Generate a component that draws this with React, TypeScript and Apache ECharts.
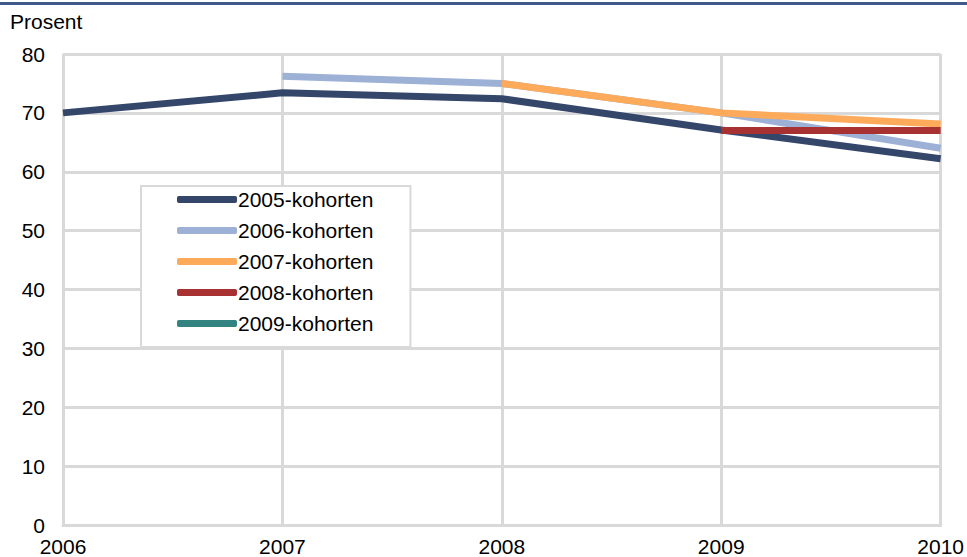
import React, { useEffect, useRef } from "react";
import * as echarts from "echarts";

const years = ["2006", "2007", "2008", "2009", "2010"];
const cohort2005 = [70, 73.4, 72.4, 67.1, 62.2];
const cohort2006 = [null, 76.2, 75.0, 70.0, 64.0];
const cohort2007 = [null, null, 75.0, 70.0, 68.1];
const cohort2008 = [null, null, null, 67.0, 67.0];
const cohort2009: (number | null)[] = [null, null, null, null, null];
const seriesNames = ["2005-kohorten", "2006-kohorten", "2007-kohorten", "2008-kohorten", "2009-kohorten"];
const colors = ["#35466b", "#9db0d6", "#fdaa5a", "#a83232", "#338480"];

const FONT = "'Liberation Sans', Arial, sans-serif";
const FS = 21;

export default function App() {
  const ref = useRef<HTMLDivElement>(null);
  useEffect(() => {
    if (!ref.current) return;
    const chart = echarts.init(ref.current, undefined, { renderer: "svg" });
    const allData = [cohort2005, cohort2006, cohort2007, cohort2008, cohort2009];
    chart.setOption({
      animation: false,
      textStyle: { fontFamily: FONT },
      title: {
        text: "Prosent",
        left: 10,
        top: 11,
        padding: 0,
        textStyle: { fontSize: FS, fontWeight: "normal", color: "#000", fontFamily: FONT },
      },
      graphic: [
        { type: "rect", left: 0, top: 2, shape: { width: 967, height: 3 }, style: { fill: "#3d5a8a" } },
      ],
      grid: { left: 63, right: 25, top: 54, bottom: 31, containLabel: false },
      legend: {
        orient: "vertical",
        left: 141,
        top: 186,
        padding: [3, 37, 13, 36],
        borderColor: "#d9d9d9",
        borderWidth: 2,
        backgroundColor: "#fff",
        icon: "roundRect",
        itemWidth: 60,
        itemHeight: 7,
        itemGap: 10,
        textStyle: { fontSize: FS, color: "#000", fontFamily: FONT, lineHeight: 21, padding: [0, 0, 0, -4] },
        data: seriesNames,
      },
      xAxis: {
        type: "category",
        data: years,
        boundaryGap: false,
        axisLine: { show: true, lineStyle: { color: "#d9d9d9", width: 3 } },
        axisTick: { show: false },
        splitLine: { show: true, lineStyle: { color: "#d9d9d9", width: 3 } },
        axisLabel: { fontSize: FS, color: "#000", margin: 11, fontFamily: FONT },
      },
      yAxis: {
        type: "value",
        min: 0,
        max: 80,
        interval: 10,
        axisLine: { show: false },
        axisTick: { show: false },
        splitLine: { show: true, lineStyle: { color: "#d9d9d9", width: 3 } },
        axisLabel: { fontSize: FS, color: "#000", margin: 18, fontFamily: FONT },
      },
      series: seriesNames.map((name, i) => ({
        name,
        type: "line",
        data: allData[i],
        symbol: "none",
        showSymbol: false,
        connectNulls: false,
        color: colors[i],
        lineStyle: { color: colors[i], width: 7 },
        itemStyle: { color: colors[i] },
      })),
    });
    return () => chart.dispose();
  }, []);
  return (
    <div
      ref={ref}
      style={{ position: "fixed", left: 0, top: 0, width: 967, height: 557, background: "#fff" }}
    />
  );
}
